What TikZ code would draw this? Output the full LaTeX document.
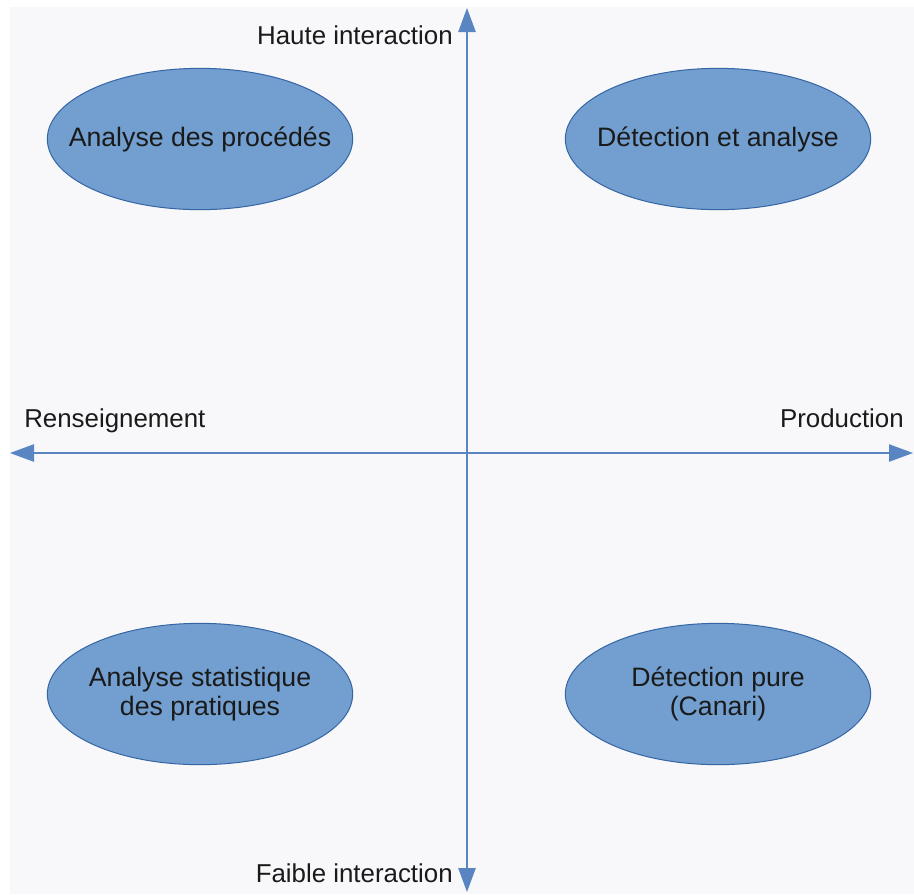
\documentclass[tikz,border=0pt]{standalone}
\usepackage{fontspec}
\setmainfont{Liberation Sans}
\usetikzlibrary{arrows.meta,shapes.geometric}
\definecolor{quadfill}{HTML}{729FCF}
\definecolor{quadline}{HTML}{3465A4}
\definecolor{axisblue}{HTML}{5A85C3}
\definecolor{pagebg}{HTML}{F8F8FA}
\definecolor{txt}{HTML}{1A1A1A}
\tikzset{
  quad/.style={ellipse, draw=quadline, fill=quadfill, line width=0.75pt,
    minimum width=229pt, minimum height=106pt, inner xsep=-30pt, inner ysep=0pt,
    align=center, text=txt, font=\fontsize{20}{22}\selectfont},
  axlab/.style={text=txt, inner sep=0pt, font=\fontsize{19.4}{22}\selectfont},
  axis/.style={{Triangle[length=18pt,width=13pt]}-{Triangle[length=18pt,width=13pt]},
    line width=1.1pt, draw=axisblue},
}

\begin{document}
\begin{tikzpicture}[x=0.75pt, y=-0.75pt]
  \useasboundingbox (0,0) rectangle (914,894);
  \fill[pagebg] (10,7) rectangle (914,894);

  % axes
  \coordinate (ytop) at (467,8);
  \coordinate (ybot) at (467,892);
  \coordinate (xleft) at (10,453);
  \coordinate (xright) at (913,453);
  \draw[axis] (ybot) -- (ytop);
  \draw[axis] (xleft) -- (xright);

  \node[axlab, anchor=base east] (hi) at (453,44) {Haute interaction};
  \node[axlab, anchor=base east] (lo) at (453,882) {Faible interaction};
  \node[axlab, anchor=base west] (rens) at (24,427) {Renseignement};
  \node[axlab, anchor=base east] (prod) at (904,427) {Production};

  % quadrants
  \node[quad] (proc) at (200,139) {Analyse des procédés};
  \node[quad] (detan) at (718,139) {Détection et analyse};
  \node[quad] (stat) at (200,694) {Analyse statistique\\des pratiques};
  \node[quad] (canari) at (718,694) {Détection pure\\(Canari)};
\end{tikzpicture}
\end{document}
